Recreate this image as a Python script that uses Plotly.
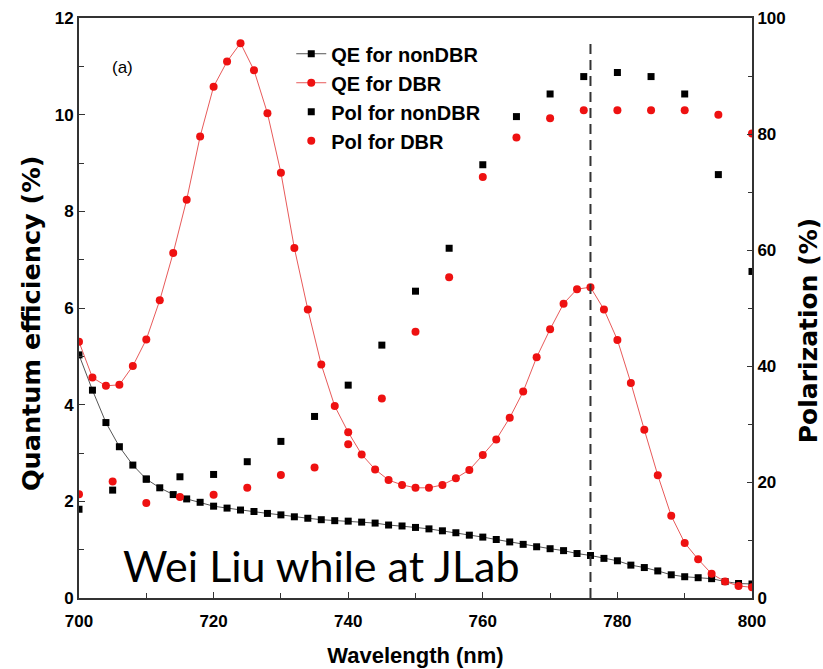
import plotly.graph_objects as go

# ---------------- data ----------------
wavelength_qe = [700, 702, 704, 706, 708, 710, 712, 714, 716, 718, 720, 722, 724, 726, 728,
                 730, 732, 734, 736, 738, 740, 742, 744, 746, 748, 750, 752, 754, 756, 758,
                 760, 762, 764, 766, 768, 770, 772, 774, 776, 778, 780, 782, 784, 786, 788,
                 790, 792, 794, 796, 798, 800]
qe_nondbr = [5.03, 4.30, 3.63, 3.13, 2.75, 2.46, 2.28, 2.14, 2.05, 1.98, 1.90, 1.86, 1.82, 1.79, 1.75,
             1.72, 1.68, 1.65, 1.62, 1.60, 1.59, 1.57, 1.55, 1.51, 1.49, 1.46, 1.43, 1.39, 1.35, 1.30,
             1.26, 1.21, 1.16, 1.11, 1.06, 1.02, 0.98, 0.92, 0.88, 0.82, 0.77, 0.68, 0.63, 0.56, 0.48,
             0.44, 0.42, 0.40, 0.34, 0.30, 0.29]
qe_dbr = [5.30, 4.56, 4.39, 4.41, 4.80, 5.35, 6.16, 7.14, 8.24, 9.55, 10.58, 11.10, 11.48, 10.92, 10.03,
          8.80, 7.24, 5.97, 4.83, 3.97, 3.43, 2.97, 2.66, 2.44, 2.34, 2.28, 2.28, 2.34, 2.48, 2.65,
          2.96, 3.28, 3.73, 4.27, 4.98, 5.56, 6.09, 6.39, 6.43, 5.97, 5.34, 4.45, 3.48, 2.54, 1.70,
          1.14, 0.80, 0.50, 0.34, 0.25, 0.22]

wavelength_pol = [700, 705, 710, 715, 720, 725, 730, 735, 740, 745, 750,
                  755, 760, 765, 770, 775, 780, 785, 790, 795, 800]
pol_nondbr = [15.3, 18.6, 20.5, 20.9, 21.3, 23.5, 27.0, 31.3, 36.7, 43.6, 52.9,
              60.3, 74.7, 83.0, 86.9, 89.9, 90.6, 89.9, 86.9, 73.0, 56.3]
pol_dbr = [17.9, 20.1, 16.4, 17.4, 17.8, 19.0, 21.2, 22.5, 26.5, 34.4, 45.9,
           55.3, 72.6, 79.4, 82.7, 84.1, 84.1, 84.1, 84.1, 83.3, 80.1]

marker_wavelength = 776
marker_line_span = [0, 11.5]

series_names = ["QE for nonDBR", "QE for DBR", "Pol for nonDBR", "Pol for DBR"]
x_ticks = [700, 720, 740, 760, 780, 800]
y_ticks = [0, 2, 4, 6, 8, 10, 12]
y2_ticks = [0, 20, 40, 60, 80, 100]

# ---------------- styles ----------------
SANS = "Liberation Sans, Arial, sans-serif"
tick_font = dict(family=SANS, size=17, color="black", weight="bold")
RED = "#ee1111"

fig = go.Figure()

fig.add_trace(go.Scatter(
    x=wavelength_qe, y=qe_nondbr, name=series_names[0], mode="lines+markers",
    line=dict(color="#555555", width=1),
    marker=dict(symbol="square", size=7, color="black")))
fig.add_trace(go.Scatter(
    x=wavelength_qe, y=qe_dbr, name=series_names[1], mode="lines+markers",
    line=dict(color="#e85a5a", width=1),
    marker=dict(symbol="circle", size=8, color=RED)))
fig.add_trace(go.Scatter(
    x=wavelength_pol, y=pol_nondbr, name=series_names[2], mode="markers", yaxis="y2",
    marker=dict(symbol="square", size=7, color="black")))
fig.add_trace(go.Scatter(
    x=wavelength_pol, y=pol_dbr, name=series_names[3], mode="markers", yaxis="y2",
    marker=dict(symbol="circle", size=8, color=RED)))

# vertical dashed reference line
fig.add_trace(go.Scatter(
    x=[marker_wavelength, marker_wavelength], y=marker_line_span, mode="lines",
    line=dict(color="#333333", width=2, dash="10px,6px"),
    showlegend=False, hoverinfo="skip"))

fig.update_layout(
    width=823, height=669,
    margin=dict(l=79, r=71, t=18, b=71),
    paper_bgcolor="white", plot_bgcolor="white",
    showlegend=True,
    legend=dict(x=0.3154, y=0.972, xanchor="left", yanchor="top",
                bgcolor="rgba(0,0,0,0)", borderwidth=0,
                font=dict(family=SANS, size=20, color="black", weight="bold"),
                tracegroupgap=0, itemwidth=30),
    xaxis=dict(range=[700, 800], tickvals=x_ticks, ticks="inside", ticklen=6,
               tickcolor="#333333", tickwidth=1.2, ticklabelstandoff=7, automargin=False,
               minor=dict(dtick=10, ticks="inside", ticklen=5, tickcolor="#333333", tickwidth=1.2),
               showline=True, linecolor="#333333", linewidth=2, mirror=True,
               showgrid=False, zeroline=False, tickfont=tick_font,
               title=dict(text="Wavelength (nm)", standoff=17,
                          font=dict(family=SANS, size=22, color="black", weight="bold"))),
    yaxis=dict(range=[0, 12], tickvals=y_ticks, ticks="inside", ticklen=6,
               tickcolor="#333333", tickwidth=1.2, automargin=False,
               minor=dict(dtick=1, ticks="inside", ticklen=5, tickcolor="#333333", tickwidth=1.2),
               showline=True, linecolor="#333333", linewidth=2,
               showgrid=False, zeroline=False, tickfont=tick_font),
    yaxis2=dict(range=[0, 100], tickvals=y2_ticks, ticks="inside", ticklen=5,
                tickcolor="#333333", tickwidth=1.2, automargin=False,
                minor=dict(dtick=10, ticks="inside", ticklen=4, tickcolor="#333333", tickwidth=1.2),
                overlaying="y", side="right",
                showline=True, linecolor="#333333", linewidth=2,
                showgrid=False, zeroline=False, tickfont=tick_font),
)

fig.add_annotation(text="Quantum efficiency (%)", textangle=-90,
                   xref="paper", yref="paper", x=-0.0713, y=0.474,
                   xanchor="center", yanchor="middle", showarrow=False,
                   font=dict(family="DejaVu Sans", size=25.5, color="black", weight="bold"))
fig.add_annotation(text="Polarization (%)", textangle=-90,
                   xref="paper", yref="paper", x=(808 - 79) / 673, y=0.460,
                   xanchor="center", yanchor="middle", showarrow=False,
                   font=dict(family="DejaVu Sans", size=25, color="black", weight="bold"))
fig.add_annotation(text="(a)", xref="paper", yref="paper", x=0.065, y=0.9155,
                   xanchor="center", yanchor="middle", showarrow=False,
                   font=dict(family=SANS, size=17, color="black"))
fig.add_annotation(text="Wei Liu while at JLab", xref="paper", yref="paper",
                   x=(121 - 79) / 673, y=(598 - 565) / 580,
                   xanchor="left", yanchor="middle", showarrow=False,
                   font=dict(family="Lato, Open Sans, sans-serif", size=43, color="black"))

fig.write_html("out.html", config={"displayModeBar": False},
               post_script="document.body.style.margin='0px';")
